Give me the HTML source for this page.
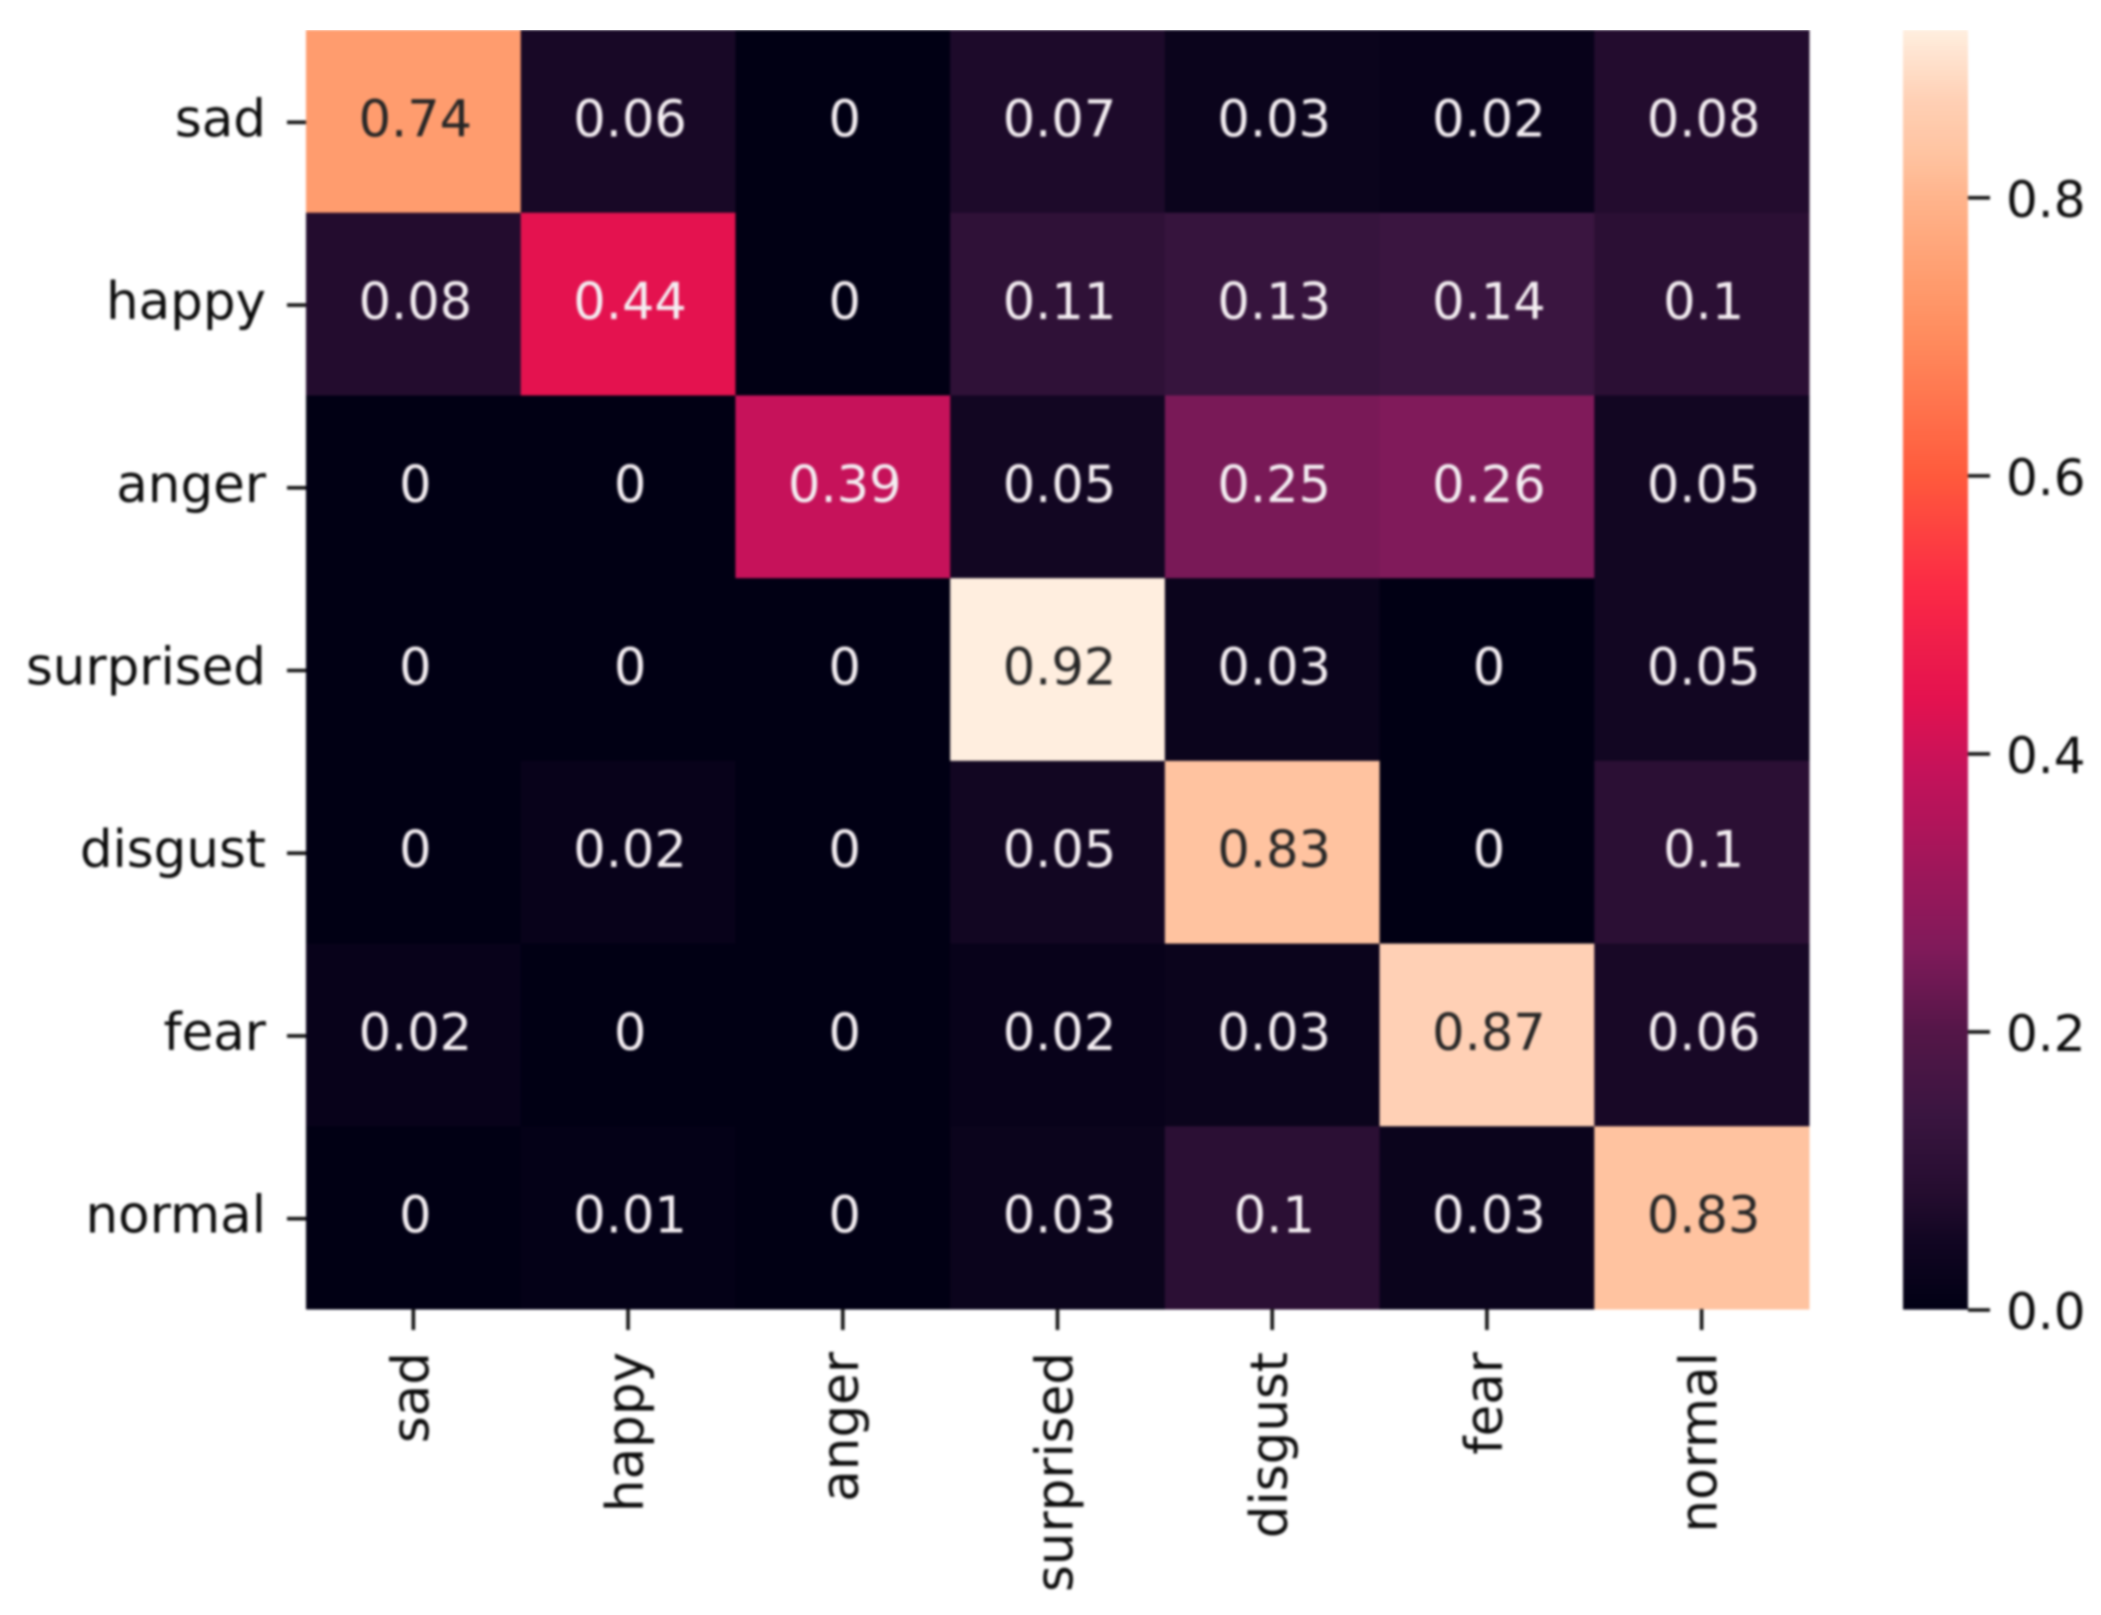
<!DOCTYPE html>
<html lang="en">
<head>
<meta charset="utf-8">
<title>Emotion confusion matrix heatmap</title>
<style>
html,body{margin:0;padding:0;background:#fff;}
svg{display:block;}
text{font-family:"DejaVu Sans","Liberation Sans",sans-serif;}
</style>
</head>
<body>
<svg id="chart" xmlns="http://www.w3.org/2000/svg" width="2101" height="1615" viewBox="0 0 2101 1615">
  <defs>
    <filter id="soft" x="0" y="0" width="100%" height="100%" color-interpolation-filters="sRGB">
      <feGaussianBlur stdDeviation="1.2"/>
    </filter>
  </defs>
  <rect x="0" y="0" width="2101" height="1615" fill="#ffffff"/>
  <g id="root" filter="url(#soft)"></g>
</svg>
<script>
const categories = ['sad', 'happy', 'anger', 'surprised', 'disgust', 'fear', 'normal'];
const rowSad = [0.74, 0.06, 0, 0.07, 0.03, 0.02, 0.08];
const rowHappy = [0.08, 0.44, 0, 0.11, 0.13, 0.14, 0.1];
const rowAnger = [0, 0, 0.39, 0.05, 0.25, 0.26, 0.05];
const rowSurprised = [0, 0, 0, 0.92, 0.03, 0, 0.05];
const rowDisgust = [0, 0.02, 0, 0.05, 0.83, 0, 0.1];
const rowFear = [0.02, 0, 0, 0.02, 0.03, 0.87, 0.06];
const rowNormal = [0, 0.01, 0, 0.03, 0.1, 0.03, 0.83];
const matrix = [rowSad, rowHappy, rowAnger, rowSurprised, rowDisgust, rowFear, rowNormal];
const colorbarTicks = [0, 0.2, 0.4, 0.6, 0.8];
const colorbarMax = 0.92;
const colorValues = [0, 0.05, 0.08, 0.14, 0.2, 0.26, 0.39, 0.44, 0.52, 0.6, 0.7, 0.74, 0.8, 0.83, 0.87, 0.92];
const colorHexes = ['#010014', '#120622', '#230c2e', '#3a1540', '#541648', '#801a5a', '#c6125a', '#e4124f', '#fb2a45', '#ff5a3c', '#ff8c5e', '#ff9c6e', '#ffb48c', '#ffc3a0', '#ffd0b5', '#ffeedf'];

const NS = 'http://www.w3.org/2000/svg';
const root = document.getElementById('root');
const plot = { left: 306, right: 1809, top: 30, bottom: 1309 };
const bar = { left: 1903, right: 1968 };
const cellW = (plot.right - plot.left) / categories.length;
const cellH = (plot.bottom - plot.top) / categories.length;
const xBand = i => plot.left + i * cellW;
const yBand = i => plot.top + i * cellH;
const yBar = v => plot.bottom - (v / colorbarMax) * (plot.bottom - plot.top);

function parseHex(h) {
  return [1, 3, 5].map(i => parseInt(h.slice(i, i + 2), 16));
}
function colorAt(v) {
  const c = Math.max(0, Math.min(colorbarMax, v));
  let k = 0;
  while (k < colorValues.length - 2 && c > colorValues[k + 1]) k++;
  const t = (c - colorValues[k]) / (colorValues[k + 1] - colorValues[k]);
  const a = parseHex(colorHexes[k]);
  const b = parseHex(colorHexes[k + 1]);
  return a.map((x, i) => x + (b[i] - x) * t);
}
function css(rgb) {
  return 'rgb(' + rgb.map(x => Math.round(x)).join(',') + ')';
}
function luminance(rgb) {
  const l = rgb.map(x => {
    const s = x / 255;
    return s <= 0.03928 ? s / 12.92 : Math.pow((s + 0.055) / 1.055, 2.4);
  });
  return 0.2126 * l[0] + 0.7152 * l[1] + 0.0722 * l[2];
}
function make(tag, attrs, text) {
  const el = document.createElementNS(NS, tag);
  Object.keys(attrs).forEach(k => el.setAttribute(k, attrs[k]));
  if (text !== undefined) el.textContent = text;
  root.appendChild(el);
  return el;
}

/* heatmap cells */
matrix.forEach((row, r) => {
  row.forEach((value, c) => {
    const rgb = colorAt(value);
    const cell = make('rect', {
      x: xBand(c), y: yBand(r), width: cellW + 0.5, height: cellH + 0.5, fill: css(rgb)
    });
    
    
  });
});

/* annotations */
matrix.forEach((row, r) => {
  row.forEach((value, c) => {
    const rgb = colorAt(value);
    const label = make('text', {
      x: xBand(c) + cellW / 2 + 2,
      y: yBand(r) + cellH / 2 + 15,
      'text-anchor': 'middle',
      'font-size': 51,
      fill: luminance(rgb) < 0.408 ? '#f4eef2' : '#262626'
    }, String(value));
    
    
  });
});

/* y axis */
categories.forEach((name, i) => {
  const cy = yBand(i) + cellH / 2;
  const tick = make('line', {
    x1: plot.left - 19, x2: plot.left, y1: cy + 1, y2: cy + 1, stroke: '#111111', 'stroke-width': 3.6
  });
  
  
  const label = make('text', {
    x: 266, y: cy + 15, 'text-anchor': 'end', 'font-size': 51.5, fill: '#0c0c0c'
  }, name);
  
  
});

/* x axis */
categories.forEach((name, i) => {
  const cx = xBand(i) + cellW / 2;
  const tick = make('line', {
    x1: cx, x2: cx, y1: plot.bottom, y2: plot.bottom + 21, stroke: '#111111', 'stroke-width': 3.6
  });
  
  
  const bx = cx + 15;
  const by = 1352;
  const label = make('text', {
    x: bx, y: by, 'text-anchor': 'end', 'font-size': 51.5, fill: '#0c0c0c',
    transform: 'rotate(-90 ' + bx + ' ' + by + ')'
  }, name);
  
  
});

/* colorbar */
const barSteps = 256;
for (let s = 0; s < barSteps; s++) {
  const v0 = colorbarMax * s / barSteps;
  const v1 = colorbarMax * (s + 1) / barSteps;
  const seg = make('rect', {
    x: bar.left, y: yBar(v1), width: bar.right - bar.left, height: yBar(v0) - yBar(v1) + 0.6,
    fill: css(colorAt((v0 + v1) / 2))
  });
  
  
}
colorbarTicks.forEach(v => {
  const y = yBar(v);
  const tick = make('line', {
    x1: bar.right, x2: bar.right + 22, y1: y + 1, y2: y + 1, stroke: '#111111', 'stroke-width': 3.6
  });
  
  
  const label = make('text', {
    x: 2006, y: y + 20, 'font-size': 50, fill: '#0c0c0c'
  }, v.toFixed(1));
  
  
});
</script>
</body>
</html>
